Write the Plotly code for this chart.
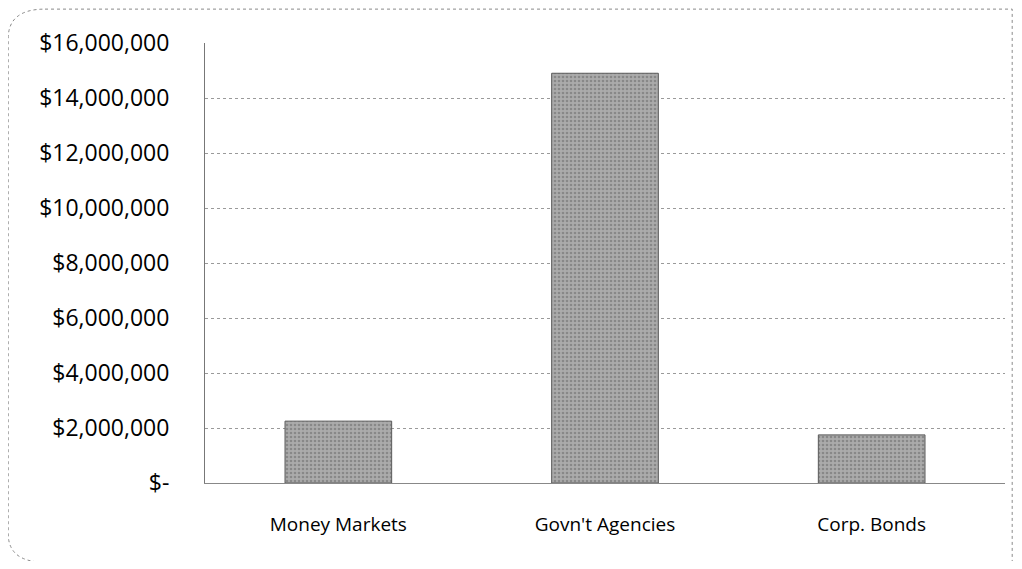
import plotly.graph_objects as go

categories = ["Money Markets", "Govn't Agencies", "Corp. Bonds"]
values = [2250000, 14900000, 1750000]
tick_vals = [0, 2000000, 4000000, 6000000, 8000000, 10000000, 12000000, 14000000, 16000000]
tick_text = ["$-", "$2,000,000", "$4,000,000", "$6,000,000", "$8,000,000",
             "$10,000,000", "$12,000,000", "$14,000,000", "$16,000,000"]

fig = go.Figure()
fig.add_trace(go.Bar(
    x=categories, y=values, width=0.4,
    marker=dict(color="#a0a0a0", line=dict(color="#5a5a5a", width=1),
                pattern=dict(shape=".", fgcolor="#666666", bgcolor="#ababab", size=4, solidity=0.35)),
))

fig.update_layout(
    width=1006, height=553,
    margin=dict(l=197, r=9, t=35, b=78, autoexpand=False),
    paper_bgcolor="white", plot_bgcolor="white",
    showlegend=False,
    font=dict(family="Open Sans", size=20, color="#000000"),
    bargap=0.6,
    shapes=[dict(type="path", xref="paper", yref="paper",
                 path="M -0.2,1.077 L 1.009,1.077 L 1.009,-0.18 L -0.2,-0.18 Q -0.246,-0.18 -0.246,-0.115 L -0.246,1.01 Q -0.246,1.077 -0.2,1.077 Z",
                 line=dict(color="#8a8a8a", width=1, dash="dot"), layer="below")],
)
fig.update_yaxes(
    range=[0, 16000000], tickvals=tick_vals, ticktext=tick_text,
    showgrid=True, gridcolor="#9a9a9a", griddash="dot", gridwidth=1,
    showline=True, linecolor="#777777", linewidth=1,
    ticks="", ticklabelstandoff=30, zeroline=False, automargin=False,
    tickfont=dict(size=23),
)
fig.update_xaxes(
    showline=True, linecolor="#888888", linewidth=1,
    ticks="", ticklabelstandoff=24, automargin=False,
    tickfont=dict(size=19),
)

fig.write_html("out.html")
